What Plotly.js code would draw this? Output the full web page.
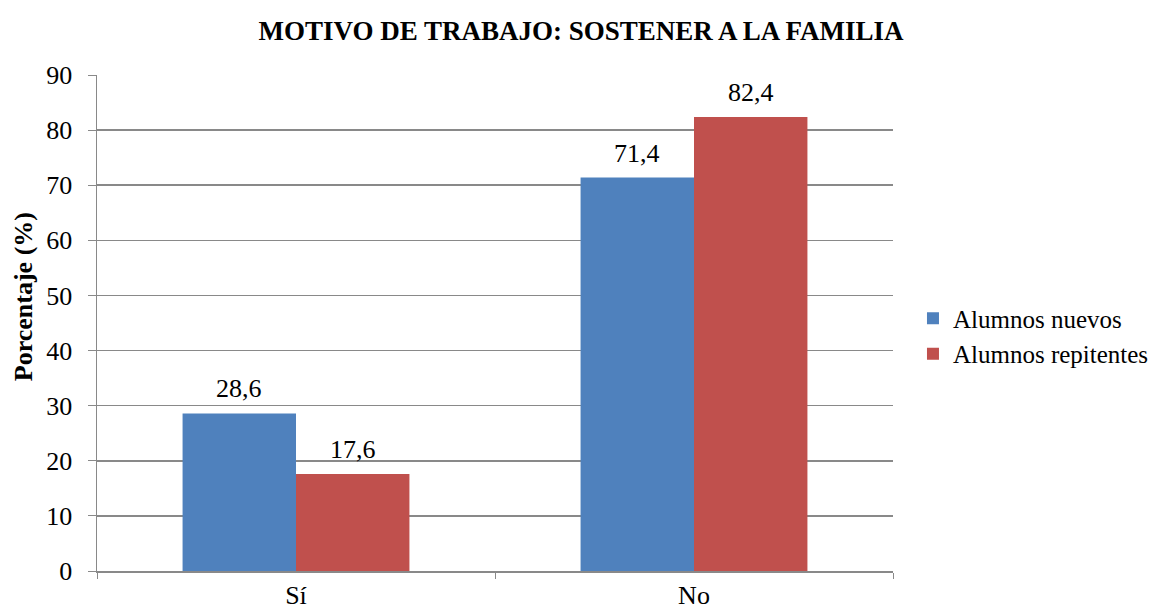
<!DOCTYPE html>
<html><head><meta charset="utf-8">
<script src="https://cdn.plot.ly/plotly-3.0.1.min.js"></script>
<style>html,body{margin:0;padding:0;background:#fff}</style>
</head><body>
<div id="chart" style="width:1162px;height:613px"></div>
<script>
const categories = ["Sí", "No"];
const seriesNames = ["Alumnos nuevos", "Alumnos repitentes"];
const nuevos = [28.6, 71.4];
const repitentes = [17.6, 82.4];
const colors = ["#4F81BD", "#C0504D"];
const fontFam = "Liberation Serif";
const fmt = v => v.toFixed(1).replace('.', ',');
const series = [nuevos, repitentes];
const data = series.map((vals, s) => ({
  type: 'bar', name: seriesNames[s], x: categories, y: vals,
  marker: {color: colors[s]}
}));
const annotations = [];
series.forEach((vals, s) => {
  vals.forEach((v, i) => {
    annotations.push({
      x: categories[i], y: v, xref: 'x', yref: 'y', text: fmt(v),
      showarrow: false, yanchor: 'bottom', xanchor: 'center',
      xshift: s === 0 ? -57 : 57, yshift: 8,
      font: {family: fontFam, size: 26, color: '#000'}
    });
  });
});
annotations.push({
  text: '<b>Porcentaje (%)</b>', xref: 'paper', yref: 'paper',
  x: -0.093, y: 0.554, xanchor: 'center', yanchor: 'middle', textangle: -90,
  showarrow: false, font: {family: fontFam, size: 26, color: '#000'}
});
const layout = {
  width: 1162, height: 613,
  margin: {l: 97, r: 269, t: 75, b: 42, autoexpand: false},
  paper_bgcolor: '#fff', plot_bgcolor: '#fff',
  font: {family: fontFam, size: 26, color: '#000'},
  title: {text: '<b>MOTIVO DE TRABAJO: SOSTENER A LA FAMILIA</b>', x: 0.5, xanchor: 'center', y: 0.95, yanchor: 'middle', font: {family: fontFam, size: 27, color: '#000'}},
  bargap: 0.43, bargroupgap: 0,
  annotations: annotations,
  xaxis: {showgrid: false, showline: true, linecolor: '#898989', linewidth: 1.5,
    ticks: 'outside', tickson: 'boundaries', ticklen: 6, tickcolor: '#898989',
    tickfont: {family: fontFam, size: 26, color: '#000'}},
  yaxis: {range: [0, 90], dtick: 10, showgrid: true, gridcolor: '#898989', gridwidth: 1.5,
    showline: true, linecolor: '#898989', linewidth: 1.5, ticks: 'outside', ticklen: 8, tickcolor: '#898989',
    ticklabelstandoff: 10,
    tickfont: {family: fontFam, size: 26, color: '#000'}, zeroline: false},
  legend: {x: 1.0251, xanchor: 'left', y: 0.474, yanchor: 'middle', font: {family: fontFam, size: 25, color: '#000'},
    itemwidth: 30, tracegroupgap: 10, bgcolor: 'rgba(0,0,0,0)'},
  showlegend: true
};
Plotly.newPlot('chart', data, layout, {displayModeBar: false, staticPlot: true});
</script>
</body></html>
